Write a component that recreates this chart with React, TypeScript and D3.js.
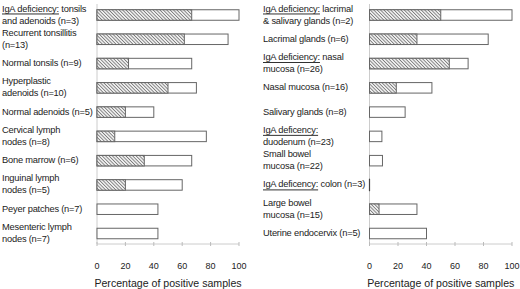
import React from "react";
import * as d3 from "d3";

const leftLabels: string[][] = [
  ["IgA deficiency: tonsils", "and adenoids (n=3)"],
  ["Recurrent tonsillitis", "(n=13)"],
  ["Normal tonsils (n=9)"],
  ["Hyperplastic", "adenoids (n=10)"],
  ["Normal adenoids (n=5)"],
  ["Cervical lymph", "nodes (n=8)"],
  ["Bone marrow (n=6)"],
  ["Inguinal lymph", "nodes (n=5)"],
  ["Peyer patches (n=7)"],
  ["Mesenteric lymph", "nodes (n=7)"],
];
const leftTotal = [100, 92.3, 66.7, 70, 40, 77, 66.7, 60, 42.9, 42.9];
const leftHatched = [66.7, 61.5, 22.2, 50, 20, 12.5, 33.3, 20, 0, 0];

const rightLabels: string[][] = [
  ["IgA deficiency: lacrimal", "& salivary glands (n=2)"],
  ["Lacrimal glands (n=6)"],
  ["IgA deficiency: nasal", "mucosa (n=26)"],
  ["Nasal mucosa (n=16)"],
  ["Salivary glands (n=8)"],
  ["IgA deficency:", "duodenum (n=23)"],
  ["Small bowel", "mucosa (n=22)"],
  ["IgA deficency: colon (n=3)"],
  ["Large bowel", "mucosa (n=15)"],
  ["Uterine endocervix (n=5)"],
];
const rightTotal = [100, 83.3, 69.2, 43.8, 25, 8.7, 9.1, 0, 33.3, 40];
const rightHatched = [50, 33.3, 56, 18.8, 0, 0, 0, 0, 6.7, 0];

const ticks = [0, 20, 40, 60, 80, 100];
const axisTitle = "Percentage of positive samples";

const FONT = "'Liberation Sans', Arial, Helvetica, sans-serif";

function Label({ lines, x, cy }: { lines: string[]; x: number; cy: number }) {
  const lh = 12;
  const y0 = cy - ((lines.length - 1) * lh) / 2 - 0.5;
  return (
    <text
      x={x}
      fontFamily={FONT}
      fontSize={9.3}
      letterSpacing={-0.2}
      fill="#222"
      dominantBaseline="central"
    >
      {lines.map((ln, i) => {
        const m = ln.match(/^(IgA defic[a-z]*:)(.*)$/);
        return (
          <tspan key={i} x={x} y={y0 + i * lh}>
            {m ? (
              <>
                <tspan style={{ textDecoration: "underline" }}>{m[1]}</tspan>
                <tspan>{m[2]}</tspan>
              </>
            ) : (
              ln
            )}
          </tspan>
        );
      })}
    </text>
  );
}

function Panel({
  labels,
  total,
  hatched,
  labelX,
  x0,
  x1,
}: {
  labels: string[][];
  total: number[];
  hatched: number[];
  labelX: number;
  x0: number;
  x1: number;
}) {
  const x = d3.scaleLinear().domain([0, 100]).range([x0, x1]);
  const y = d3
    .scalePoint<number>()
    .domain(d3.range(labels.length))
    .range([15, 233.5]);
  const bh = 10.5;
  const axisY = 244;
  return (
    <g>
      <line x1={x(0)} x2={x(0)} y1={4} y2={axisY} stroke="#ccc" strokeWidth={1} />
      <line x1={x(0)} x2={x(100)} y1={axisY} y2={axisY} stroke="#ccc" strokeWidth={1} />
      {ticks.map((t) => (
        <g key={t}>
          <line x1={x(t)} x2={x(t)} y1={axisY - 2} y2={axisY + 2} stroke="#bbb" strokeWidth={1} />
          <text
            x={x(t)}
            y={266}
            textAnchor="middle"
            dominantBaseline="central"
            fontFamily={FONT}
            fontSize={9}
            fill="#222"
          >
            {t}
          </text>
        </g>
      ))}
      <text
        x={(x(0) + x(100)) / 2}
        y={283}
        textAnchor="middle"
        dominantBaseline="central"
        fontFamily={FONT}
        fontSize={10.6}
        fill="#222"
      >
        {axisTitle}
      </text>
      {labels.map((lines, i) => {
        const cy = y(i)!;
        const t = total[i];
        const h = hatched[i];
        return (
          <g key={i}>
            <Label lines={lines} x={labelX} cy={cy} />
            {t > 0 ? (
              <>
                <rect
                  x={x(0)}
                  y={cy - bh / 2}
                  width={x(t) - x(0)}
                  height={bh}
                  fill="#fff"
                  stroke="#666"
                  strokeWidth={1}
                />
                {h > 0 && (
                  <rect
                    x={x(0)}
                    y={cy - bh / 2}
                    width={x(h) - x(0)}
                    height={bh}
                    fill="url(#hatch)"
                    stroke="#666"
                    strokeWidth={1}
                  />
                )}
              </>
            ) : (
              <line
                x1={x(0)}
                x2={x(0)}
                y1={cy - bh / 2 - 1}
                y2={cy + bh / 2 + 1}
                stroke="#444"
                strokeWidth={1.2}
              />
            )}
          </g>
        );
      })}
    </g>
  );
}

export default function App() {
  return (
    <svg
      width={520}
      height={289}
      style={{ position: "absolute", left: 0, top: 0, background: "#fff" }}
    >
      <defs>
        <pattern
          id="hatch"
          patternUnits="userSpaceOnUse"
          width={2.4}
          height={2.4}
          patternTransform="rotate(-45)"
        >
          <rect width={2.4} height={2.4} fill="#eee" />
          <line x1={0} y1={0} x2={0} y2={2.4} stroke="#444" strokeWidth={1.1} />
        </pattern>
      </defs>
      <rect width={520} height={289} fill="#fff" />
      <Panel
        labels={leftLabels}
        total={leftTotal}
        hatched={leftHatched}
        labelX={2}
        x0={97}
        x1={239}
      />
      <Panel
        labels={rightLabels}
        total={rightTotal}
        hatched={rightHatched}
        labelX={263}
        x0={369.5}
        x1={512}
      />
    </svg>
  );
}
